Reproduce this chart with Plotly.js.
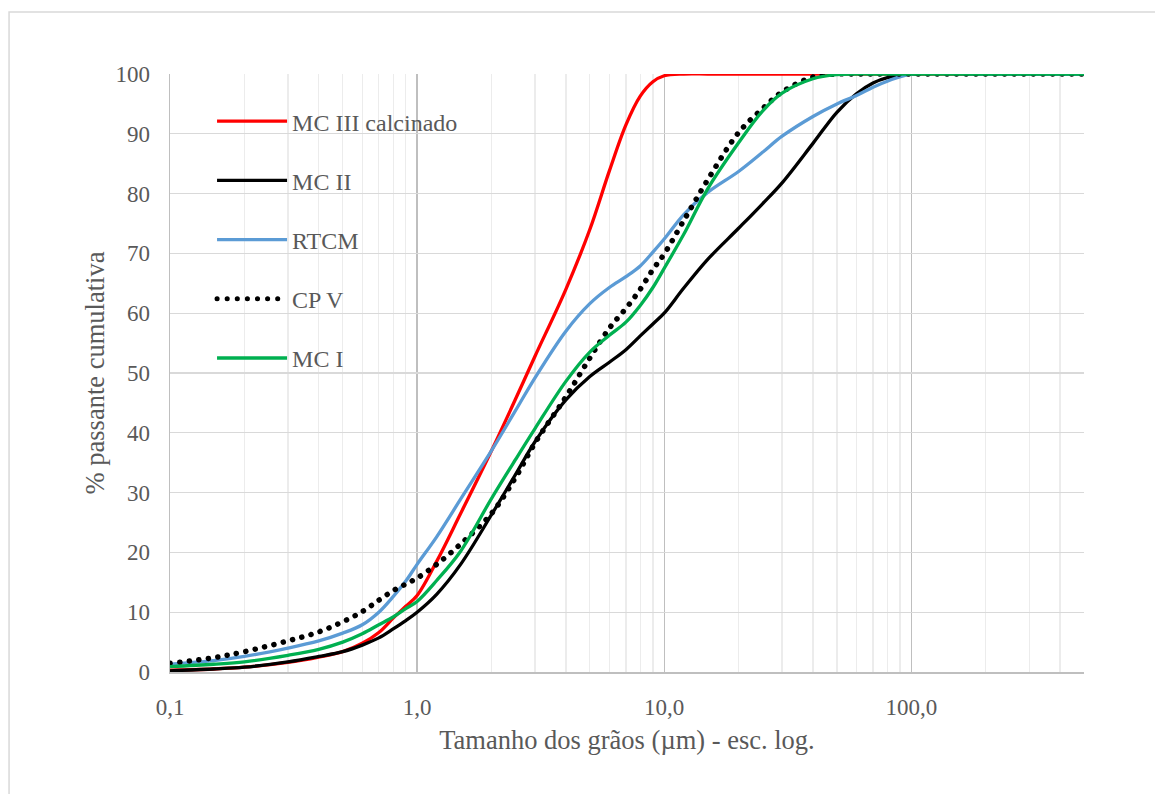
<!DOCTYPE html>
<html>
<head>
<meta charset="utf-8">
<script src="https://cdn.plot.ly/plotly-3.0.1.min.js"></script>
<style>
html,body{margin:0;padding:0;background:#fff;}
#chart{width:1155px;height:794px;}
</style>
</head>
<body>
<div id="chart"></div>
<script>
// Grain size (µm) – shared x values
const grainSize = [0.1, 0.15, 0.2, 0.3, 0.4, 0.5, 0.6, 0.7, 0.8, 0.9, 1, 1.2, 1.5, 2, 2.5, 3, 4, 5, 6, 7, 8, 9, 10, 12, 15, 20, 25, 30, 40, 50, 60, 70, 80, 100, 200, 500];

const seriesNames = ["MC III calcinado", "MC II", "RTCM", "CP V", "MC I"];

const mcIIIcalc = [0.3, 0.5, 0.8, 1.6, 2.5, 3.4, 4.8, 6.6, 9.0, 11.0, 12.8, 18.5, 26.5, 37.0, 45.6, 52.8, 64.0, 74.0, 83.8, 91.5, 96.3, 98.7, 99.7, 100, 100, 100, 100, 100, 100, 100, 100, 100, 100, 100, 100, 100];
const mcII = [0.2, 0.5, 0.8, 1.7, 2.6, 3.4, 4.5, 5.7, 7.2, 8.6, 10.0, 13.0, 18.0, 26.3, 33.0, 38.5, 45.5, 49.4, 51.8, 53.9, 56.2, 58.2, 60.0, 64.2, 69.0, 74.2, 78.3, 81.8, 88.4, 93.6, 96.7, 98.5, 99.4, 100, 100, 100];
const rtcm = [1.3, 1.9, 2.6, 4.0, 5.2, 6.5, 7.9, 10.0, 12.6, 15.2, 18.0, 22.6, 28.9, 37.0, 43.7, 49.2, 57.0, 61.6, 64.3, 66.1, 67.9, 70.2, 72.4, 76.5, 80.2, 83.7, 86.9, 89.6, 92.9, 95.0, 96.4, 97.8, 98.8, 100, 100, 100];
const cpV = [1.45, 2.4, 3.4, 5.2, 6.7, 8.4, 10.1, 12.0, 13.6, 14.7, 15.7, 18.0, 21.4, 26.5, 32.5, 38.3, 46.0, 52.5, 57.5, 60.8, 64.0, 67.3, 69.9, 75.5, 82.3, 90.2, 94.2, 97.0, 99.5, 100, 100, 100, 100, 100, 100, 100];
const mcI = [0.9, 1.3, 1.7, 2.8, 3.8, 5.0, 6.4, 7.9, 9.2, 10.6, 11.8, 15.3, 20.2, 29.0, 35.5, 40.7, 48.6, 53.5, 56.3, 58.5, 61.3, 64.3, 67.5, 73.2, 80.8, 88.5, 93.8, 96.8, 99.2, 99.9, 100, 100, 100, 100, 100, 100];

const xTickVals = [0.1, 1, 10, 100];
const xTickText = ["0,1", "1,0", "10,0", "100,0"];
const yTickVals = [0, 10, 20, 30, 40, 50, 60, 70, 80, 90, 100];

const seriesValues = [mcIIIcalc, mcII, rtcm, cpV, mcI];
const seriesColors = ["#ff0000", "#000000", "#5b9bd5", "#000000", "#00b050"];
const seriesDash = ["solid", "solid", "solid", "5px,5px", "solid"];

const traces = seriesNames.map((name, i) => ({
  type: "scatter",
  mode: "lines",
  name: name,
  x: grainSize,
  y: seriesValues[i],
  legendgroup: "g" + i,
  line: {color: seriesColors[i], width: i === 3 ? 5 : 3.3, dash: seriesDash[i], shape: "spline", smoothing: 1},
  hoverinfo: "skip"
}));

const font = "'Liberation Serif', 'Times New Roman', serif";
const gray = "#595959";

const layout = {
  width: 1155,
  height: 794,
  margin: {l: 170, r: 71, t: 74, b: 122},
  paper_bgcolor: "#ffffff",
  plot_bgcolor: "#ffffff",
  font: {family: font, size: 23, color: gray},
  showlegend: true,
  legend: {
    x: 0.046, y: 0.958, xanchor: "left", yanchor: "top",
    bgcolor: "rgba(0,0,0,0)",
    font: {family: font, size: 24, color: gray},
    tracegroupgap: 25,
    itemwidth: 70,
    traceorder: "grouped"
  },
  xaxis: {
    type: "log",
    range: [-1, Math.log10(500)],
    tickvals: xTickVals,
    ticktext: xTickText,
    showgrid: true,
    gridcolor: "#bfbfbf",
    gridwidth: 1.3,
    minor: {showgrid: true, gridcolor: "#ececec", gridwidth: 1.3, dtick: "D1", ticks: ""},
    showline: true,
    linecolor: "#bfbfbf",
    linewidth: 1.5,
    ticks: "",
    ticklabelstandoff: 14,
    zeroline: false,
    tickfont: {family: font, size: 23, color: gray},
    title: {text: "Tamanho dos grãos (µm) - esc. log.", font: {family: font, size: 26.5, color: gray}, standoff: 11}
  },
  yaxis: {
    range: [0, 100],
    tickvals: yTickVals,
    showgrid: true,
    gridcolor: "#d9d9d9",
    gridwidth: 1.3,
    showline: true,
    linecolor: "#bfbfbf",
    linewidth: 1.5,
    ticks: "",
    ticklabelstandoff: 14,
    zeroline: false,
    tickfont: {family: font, size: 23, color: gray},
    title: {text: "% passante cumulativa", font: {family: font, size: 26.5, color: gray}, standoff: 3}
  },
  shapes: [{
    type: "rect", xref: "paper", yref: "paper",
    x0: -0.1761, x1: 1.083, y0: -0.214, y1: 1.1037,
    line: {color: "#d9d9d9", width: 1.5}, layer: "below"
  }]
};

Plotly.newPlot("chart", traces, layout, {displayModeBar: false, staticPlot: true}).then(function (gd) {
  // lengthen legend lines like the original
  gd.querySelectorAll(".legend .traces").forEach(function (t, i) {
    t.querySelectorAll(".legendlines path").forEach(function (p) {
      p.setAttribute("d", "M5,0h70");
      if (i === 3) {
        p.style.strokeLinecap = "round";
        p.style.strokeDasharray = "0.1px,10px";
        p.style.strokeWidth = "5px";
      }
    });
  });
  // round dots for CP V curve
  const tr = gd.querySelectorAll(".scatterlayer .trace")[3];
  if (tr) {
    tr.querySelectorAll("path.js-line").forEach(function (p) {
      p.style.strokeLinecap = "round";
      p.style.strokeDasharray = "0.1px,9.5px";
      p.style.strokeWidth = "5.5px";
    });
  }
});
</script>
</body>
</html>
